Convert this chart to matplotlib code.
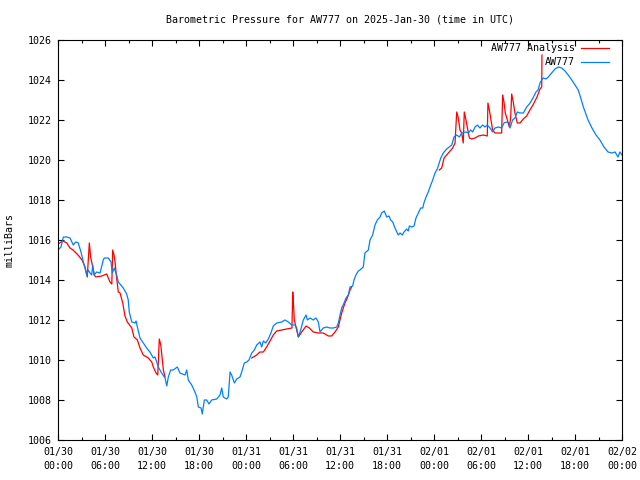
import numpy as np
import matplotlib
matplotlib.use("Agg")
import matplotlib.pyplot as plt
import matplotlib.dates as mdates

NAN = float("nan")

# hours after 2025-01-30 00:00 UTC and pressure in millibars
obs_hours = [
    0.0, 0.38, 0.68, 1.11, 1.53, 1.95, 2.26, 2.59, 2.94, 3.23, 3.45, 3.66, 3.87, 4.09, 4.30,
    4.43, 4.60, 4.94, 5.36, 5.78, 5.91, 6.42, 6.77, 6.93, 7.19, 7.49, 7.70, 7.91, 8.34, 8.77,
    8.97, 9.10, 9.41, 9.83, 9.96, 10.13, 10.47, 10.89, 11.32, 11.74, 12.17, 12.38, 12.60, 12.80,
    13.24, 13.66, 13.88, 14.08, 14.39, 14.72, 15.23, 15.57, 16.21, 16.43, 16.63, 17.07, 17.49,
    17.71, 17.91, 18.26, 18.42, 18.68, 18.98, 19.28, 19.62, 20.26, 20.68, 20.90, 21.10, 21.54,
    21.74, 21.96, 22.17, 22.51, 22.81, 23.23, 23.45, 23.78, 24.09, 24.38, 24.73, 25.06, 25.37,
    25.79, 26.00, 26.21, 26.51, 26.85, 27.19, 27.48, 27.92, 28.56, 28.98, 29.40, 29.83, 30.26,
    30.47, 30.68, 30.98, 31.31, 31.66, 31.83, 32.17, 32.59, 32.94, 33.23, 33.45, 33.87, 34.30,
    34.72, 35.14, 35.58, 35.78, 36.00, 36.22, 36.51, 36.77, 37.06, 37.28, 37.62, 37.79, 38.04,
    38.34, 38.55, 38.97, 39.19, 39.61, 39.83, 40.17, 40.47, 40.76, 41.11, 41.32, 41.65, 41.96,
    42.26, 42.47, 42.73, 43.02, 43.44, 43.66, 43.95, 44.17, 44.51, 44.72, 44.85, 45.15, 45.45,
    45.70, 46.00, 46.30, 46.56, 46.72, 46.98, 47.27, 47.58, 47.83, 48.13, 48.42, 48.86, 49.19,
    49.62, 49.95, 50.26, 50.55, 50.90, 51.23, 51.54, 52.09, 52.38, 52.68, 52.94, 53.23, 53.53,
    53.87, 54.22, 54.51, 54.80, 55.15, 55.49, 55.79, 56.21, 56.64, 56.94, 57.28, 57.61, 57.70,
    58.04, 58.34, 58.63, 58.98, 59.40, 59.83, 60.26, 60.64, 61.02, 61.28, 61.53, 61.75, 61.95,
    62.30, 62.59, 63.02, 63.45, 63.87, 64.30, 64.72, 65.14, 65.58, 66.00, 66.42, 66.73, 67.06,
    67.66, 68.17, 68.68, 69.19, 69.70, 70.21, 70.72, 71.11, 71.49, 71.74, 72.0,
]
obs_press = [
    1015.5, 1015.65, 1016.15, 1016.15, 1016.1, 1015.75, 1015.9, 1015.85, 1015.4, 1014.9, 1014.6,
    1014.25, 1014.5, 1014.35, 1014.25, 1014.75, 1014.25, 1014.4, 1014.35, 1015.0, 1015.1, 1015.1,
    1014.9, 1014.35, 1014.6, 1014.25, 1013.9, 1013.8, 1013.6, 1013.3, 1013.0, 1012.4, 1011.9,
    1011.85, 1011.95, 1011.65, 1011.1, 1010.85, 1010.6, 1010.4, 1010.1, 1010.15, 1009.9, 1009.65,
    1009.35, 1009.1, 1008.7, 1009.15, 1009.5, 1009.5, 1009.65, 1009.35, 1009.25, 1009.5, 1009.0,
    1008.75, 1008.4, 1008.15, 1007.65, 1007.6, 1007.3, 1008.0, 1008.0, 1007.8, 1008.0, 1008.05,
    1008.25, 1008.6, 1008.15, 1008.05, 1008.15, 1009.4, 1009.25, 1008.85, 1009.05, 1009.15,
    1009.4, 1009.85, 1009.9, 1010.0, 1010.35, 1010.5, 1010.75, 1010.9, 1010.65, 1010.95, 1010.85,
    1011.05, 1011.35, 1011.7, 1011.85, 1011.9, 1012.0, 1011.9, 1011.75, 1011.75, 1011.6, 1011.15,
    1011.5, 1012.0, 1012.25, 1012.0, 1012.1, 1012.0, 1012.1, 1011.9, 1011.4, 1011.6, 1011.65,
    1011.6, 1011.6, 1011.65, 1011.85, 1012.25, 1012.6, 1012.85, 1013.1, 1013.25, 1013.65, 1013.7,
    1014.0, 1014.25, 1014.45, 1014.5, 1014.65, 1015.35, 1015.5, 1016.0, 1016.25, 1016.75, 1017.0,
    1017.15, 1017.35, 1017.45, 1017.15, 1017.2, 1017.0, 1016.9, 1016.6, 1016.25, 1016.35,
    1016.25, 1016.4, 1016.55, 1016.45, 1016.7, 1016.65, 1016.7, 1017.1, 1017.35, 1017.6, 1017.6,
    1017.85, 1018.15, 1018.4, 1018.75, 1019.0, 1019.35, 1019.55, 1020.1, 1020.35, 1020.55,
    1020.65, 1020.75, 1021.15, 1021.25, 1021.15, 1021.35, 1021.4, 1021.35, 1021.5, 1021.4,
    1021.65, 1021.75, 1021.6, 1021.75, 1021.65, 1021.75, 1021.6, 1021.4, 1021.6, 1021.65, 1021.6,
    1021.85, 1021.9, 1021.85, 1021.6, 1022.0, 1022.1, 1022.4, 1022.35, 1022.35, 1022.65, 1022.85,
    1023.1, 1023.4, 1023.5, 1023.85, 1024.0, 1024.1, 1024.05, 1024.15, 1024.35, 1024.55, 1024.65,
    1024.6, 1024.45, 1024.25, 1024.0, 1023.75, 1023.5, 1023.1, 1022.65, 1022.0, 1021.6, 1021.25,
    1021.0, 1020.65, 1020.4, 1020.35, 1020.4, 1020.15, 1020.4, 1020.25,
]

# analysis series, NaN marks the gaps where no analysis was drawn
ana_hours = [
    0.0, 0.64, 1.11, 1.53, 1.91, 2.55, 3.06, 3.45, 3.74, 4.00, 4.17, 4.38, 4.63, 4.81, 5.58,
    6.22, 6.64, 6.86, 6.98, 7.15, 7.28, 7.49, 7.70, 7.91, 8.26, 8.55, 8.85, 9.41, 9.70, 10.13,
    10.47, 10.89, 11.53, 11.96, 12.17, 12.51, 12.73, 12.93, 13.11, 13.28, 13.45, 13.66,
    19.0,
    24.73, 25.37, 25.79, 26.21, 26.64, 27.06, 27.48, 27.92, 28.56, 29.19, 29.87, 29.96, 30.04,
    30.17, 30.47, 30.68, 31.11, 31.66, 32.08, 32.59, 33.23, 33.87, 34.51, 34.94, 35.36, 35.78,
    36.22, 36.64, 36.93, 37.28, 37.49,
    43.0,
    48.67, 48.98, 49.28, 49.62, 49.95, 50.38, 50.68, 50.90, 51.10, 51.32, 51.54, 51.74, 51.87,
    52.09, 52.26, 52.51, 52.81, 53.23, 53.66, 54.29, 54.80, 54.89, 55.06, 55.24, 55.49, 55.79,
    56.21, 56.64, 56.77, 56.94, 57.10, 57.36, 57.61, 57.79, 57.91, 58.12, 58.34, 58.63, 58.98,
    59.40, 59.83, 60.17, 60.64, 61.15, 61.53, 61.75, 61.79,
]
ana_press = [
    1015.8, 1015.95, 1015.85, 1015.6, 1015.5, 1015.25, 1015.0, 1014.65, 1014.15, 1015.85,
    1015.15, 1014.75, 1014.25, 1014.15, 1014.2, 1014.3, 1013.9, 1013.8, 1015.5, 1015.25, 1014.9,
    1014.1, 1013.4, 1013.35, 1012.85, 1012.2, 1011.9, 1011.6, 1011.15, 1011.0, 1010.6, 1010.25,
    1010.1, 1009.9, 1009.65, 1009.35, 1009.25, 1011.05, 1010.75, 1010.15, 1009.5, 1009.15,
    NAN,
    1010.1, 1010.25, 1010.4, 1010.4, 1010.65, 1010.95, 1011.25, 1011.45, 1011.5, 1011.55, 1011.6,
    1013.4, 1013.0, 1012.0, 1011.5, 1011.15, 1011.4, 1011.7, 1011.6, 1011.4, 1011.35, 1011.35,
    1011.2, 1011.2, 1011.4, 1011.65, 1012.35, 1012.85, 1013.1, 1013.5, 1013.65,
    NAN,
    1019.5, 1019.6, 1020.1, 1020.25, 1020.4, 1020.6, 1020.85, 1022.4, 1022.1, 1021.5, 1021.35,
    1020.85, 1022.4, 1022.0, 1021.6, 1021.1, 1021.05, 1021.1, 1021.2, 1021.25, 1021.2, 1022.85,
    1022.5, 1022.1, 1021.5, 1021.35, 1021.35, 1021.35, 1023.25, 1022.9, 1022.35, 1022.0,
    1021.65, 1022.1, 1023.3, 1022.9, 1022.35, 1021.85, 1021.85, 1022.05, 1022.2, 1022.45,
    1022.75, 1023.15, 1023.55, 1023.65, 1025.25,
]

start = np.datetime64("2025-01-30T00:00")


def to_times(hours):
    mins = np.round(np.array(hours) * 60).astype("timedelta64[m]")
    return (start + mins).astype("datetime64[s]").astype(object)


plt.rcParams["font.family"] = ["DejaVu Sans Mono"]
plt.rcParams["font.size"] = 7.2

fig = plt.figure(figsize=(6.4, 4.8), dpi=100)
ax = fig.add_axes([58 / 640, 1 - 440 / 480, 564 / 640, 400 / 480])

ax.plot(to_times(ana_hours), ana_press, color="#ff0000", lw=0.9, label="AW777 Analysis")
ax.plot(to_times(obs_hours), obs_press, color="#0080ff", lw=0.9, label="AW777")

ax.set_xlim(start.astype(object), (start + np.timedelta64(72, "h")).astype(object))
ax.set_ylim(1006, 1026)
ax.set_yticks(np.arange(1006, 1027, 2))

ax.xaxis.set_major_locator(mdates.HourLocator(byhour=[0, 6, 12, 18]))
ax.xaxis.set_minor_locator(mdates.HourLocator(byhour=range(0, 24, 3)))
ax.xaxis.set_major_formatter(mdates.DateFormatter("%m/%d\n%H:%M"))

ax.tick_params(which="both", direction="in", top=True, right=True, color="black")
ax.tick_params(which="major", length=4, width=0.8)
ax.tick_params(which="minor", length=2.2, width=0.8)
ax.tick_params(axis="x", pad=5)
ax.tick_params(axis="y", pad=4.5)
for sp in ax.spines.values():
    sp.set_linewidth(0.8)

for lbl in ax.get_xticklabels():
    lbl.set_linespacing(1.45)

fig.text(340 / 640, 1 - 20 / 480, "Barometric Pressure for AW777 on 2025-Jan-30 (time in UTC)",
         ha="center", va="center")
fig.text(10 / 640, 0.5, "milliBars", rotation=90, ha="center", va="center")

ax.legend(loc="upper right", bbox_to_anchor=(609 / 640, 1 - 43 / 480),
          bbox_transform=fig.transFigure, frameon=False, markerfirst=False,
          handlelength=2.8, handletextpad=0.6, labelspacing=0.4,
          borderpad=0, borderaxespad=0)

fig.savefig("out.png", dpi=100)
